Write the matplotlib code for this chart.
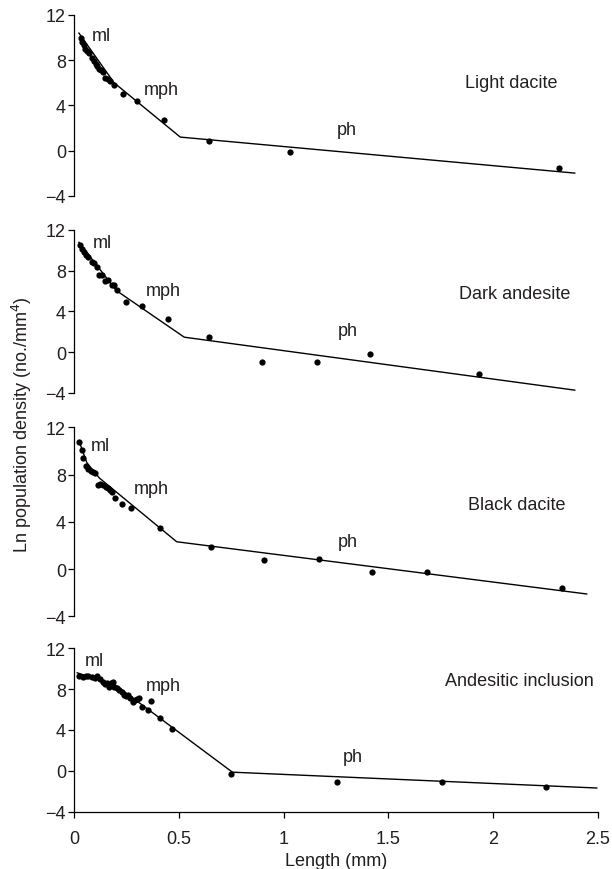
import matplotlib
matplotlib.use("Agg")
import matplotlib.pyplot as plt

plt.rcParams['font.family'] = ['Liberation Sans', 'DejaVu Sans']
plt.rcParams['font.size'] = 13
TXT = '#231f20'

# ---------------- data ----------------
names = ["Light dacite", "Dark andesite", "Black dacite", "Andesitic inclusion"]

ld_x = [0.032, 0.037, 0.045, 0.051, 0.062, 0.072, 0.084, 0.096, 0.102, 0.107, 0.116, 0.126,
        0.135, 0.148, 0.159, 0.170, 0.191, 0.234, 0.298, 0.427, 0.645, 1.03, 2.313]
ld_y = [9.95, 9.65, 9.3, 9.0, 8.8, 8.65, 8.2, 7.95, 7.7, 7.5, 7.2, 7.1,
        6.95, 6.45, 6.3, 6.15, 5.8, 5.0, 4.35, 2.7, 0.8, -0.15, -1.55]
ld_fit_x = [0.022, 0.19, 0.506, 2.39]
ld_fit_y = [10.4, 6.0, 1.19, -2.0]

da_x = [0.027, 0.035, 0.046, 0.056, 0.067, 0.083, 0.096, 0.107, 0.116, 0.132, 0.148, 0.162,
        0.18, 0.19, 0.202, 0.247, 0.323, 0.446, 0.643, 0.898, 1.159, 1.414, 1.931]
da_y = [10.5, 10.1, 9.79, 9.55, 9.3, 8.8, 8.7, 8.38, 7.57, 7.6, 6.95, 7.08,
        6.62, 6.62, 6.1, 4.89, 4.56, 3.29, 1.52, -0.92, -0.92, -0.2, -2.1]
da_fit_x = [0.022, 0.20, 0.525, 2.39]
da_fit_y = [10.77, 6.05, 1.47, -3.72]

bd_x = [0.022, 0.037, 0.043, 0.056, 0.067, 0.078, 0.091, 0.10, 0.112, 0.123, 0.138, 0.151,
        0.161, 0.170, 0.18, 0.193, 0.228, 0.271, 0.411, 0.652, 0.907, 1.167, 1.423, 1.684, 2.329]
bd_y = [10.78, 10.08, 9.4, 8.75, 8.47, 8.33, 8.19, 8.1, 7.14, 7.2, 7.11, 6.97,
        6.86, 6.69, 6.5, 6.01, 5.5, 5.14, 3.47, 1.89, 0.77, 0.85, -0.23, -0.23, -1.63]
bd_fit_x = [0.022, 0.06, 0.12, 0.489, 2.447]
bd_fit_y = [10.87, 9.0, 7.7, 2.31, -2.11]

ai_x = [0.024, 0.040, 0.056, 0.067, 0.083, 0.099, 0.110, 0.123, 0.138, 0.147, 0.158, 0.164,
        0.175, 0.183, 0.191, 0.202, 0.215, 0.226, 0.237, 0.247, 0.258, 0.266, 0.279, 0.29,
        0.301, 0.31, 0.325, 0.352, 0.366, 0.409, 0.467, 0.747, 1.253, 1.754, 2.251]
ai_y = [9.26, 9.16, 9.32, 9.32, 9.16, 9.06, 9.26, 9.0, 8.73, 8.5, 8.6, 8.18,
        8.6, 8.67, 8.18, 8.08, 7.92, 7.75, 7.43, 7.3, 7.43, 7.1, 6.71, 6.94,
        7.04, 7.13, 6.22, 5.96, 6.87, 5.21, 4.07, -0.28, -1.14, -1.14, -1.54]
ai_fit_x = [0.014, 0.2, 0.755, 2.495]
ai_fit_y = [9.6, 8.35, -0.13, -1.68]

# label positions (data coords): ml, mph, ph, title
ml_pos = [(0.085, 10.17), (0.088, 10.7), (0.078, 10.5), (0.051, 10.76)]
mph_pos = [(0.33, 5.38), (0.342, 6.0), (0.282, 6.86), (0.341, 8.4)]
ph_pos = [(1.253, 1.9), (1.258, 2.08), (1.258, 2.29), (1.28, 1.36)]
title_pos = [(1.866, 6.04), (1.839, 5.7), (1.88, 5.5), (1.77, 8.8)]

xticks = [0, 0.5, 1, 1.5, 2, 2.5]
xticklabels = ["0", "0.5", "1", "1.5", "2", "2.5"]
yticks = [-4, 0, 4, 8, 12]

panels = [(ld_x, ld_y, ld_fit_x, ld_fit_y), (da_x, da_y, da_fit_x, da_fit_y),
          (bd_x, bd_y, bd_fit_x, bd_fit_y), (ai_x, ai_y, ai_fit_x, ai_fit_y)]

# ---------------- layout ----------------
fig = plt.figure(figsize=(6.12, 8.70), dpi=100)
W, H = 612.0, 870.0
left, right = 74.3, 597.8
tops = [16.0, 230.7, 428.3, 649.3]
bottoms = [196.7, 394.0, 617.3, 812.7]

for i, (px, py, fx, fy) in enumerate(panels):
    ax = fig.add_axes([left / W, 1 - bottoms[i] / H, (right - left) / W, (bottoms[i] - tops[i]) / H])
    ax.plot(fx, fy, color='black', lw=1.0, zorder=2)
    ax.plot(px, py, 'o', color='black', ms=4.5, mec='none', zorder=3)
    ax.set_xlim(0, 2.5)
    ax.set_ylim(-4, 12)
    ax.set_yticks(yticks)
    ax.tick_params(axis='y', direction='out', length=4, width=0.9, colors='black',
                   labelcolor=TXT, labelsize=13, pad=2)
    for s in ['top', 'right']:
        ax.spines[s].set_visible(False)
    ax.spines['left'].set_linewidth(0.9)
    if i < 3:
        ax.spines['bottom'].set_visible(False)
        ax.set_xticks([])
    else:
        ax.spines['bottom'].set_linewidth(0.9)
        ax.set_xticks(xticks)
        ax.set_xticklabels(xticklabels)
        ax.tick_params(axis='x', direction='out', length=4, width=0.9, colors='black',
                       labelcolor=TXT, labelsize=13, pad=9)
        ax.set_xlabel("Length (mm)", color=TXT, fontsize=13, labelpad=4)
    ax.patch.set_alpha(0)
    ax.text(*ml_pos[i], "ml", color=TXT, fontsize=13, va='center', ha='left')
    ax.text(*mph_pos[i], "mph", color=TXT, fontsize=13, va='center', ha='left')
    ax.text(*ph_pos[i], "ph", color=TXT, fontsize=13, va='center', ha='left')
    ax.text(*title_pos[i], names[i], color=TXT, fontsize=13, va='center', ha='left')

fig.text(22 / W, 1 - 425 / H, "Ln population density (no./mm$^4$)", rotation=90,
         ha='center', va='center', color=TXT, fontsize=13)

fig.savefig("out.png", dpi=100)
